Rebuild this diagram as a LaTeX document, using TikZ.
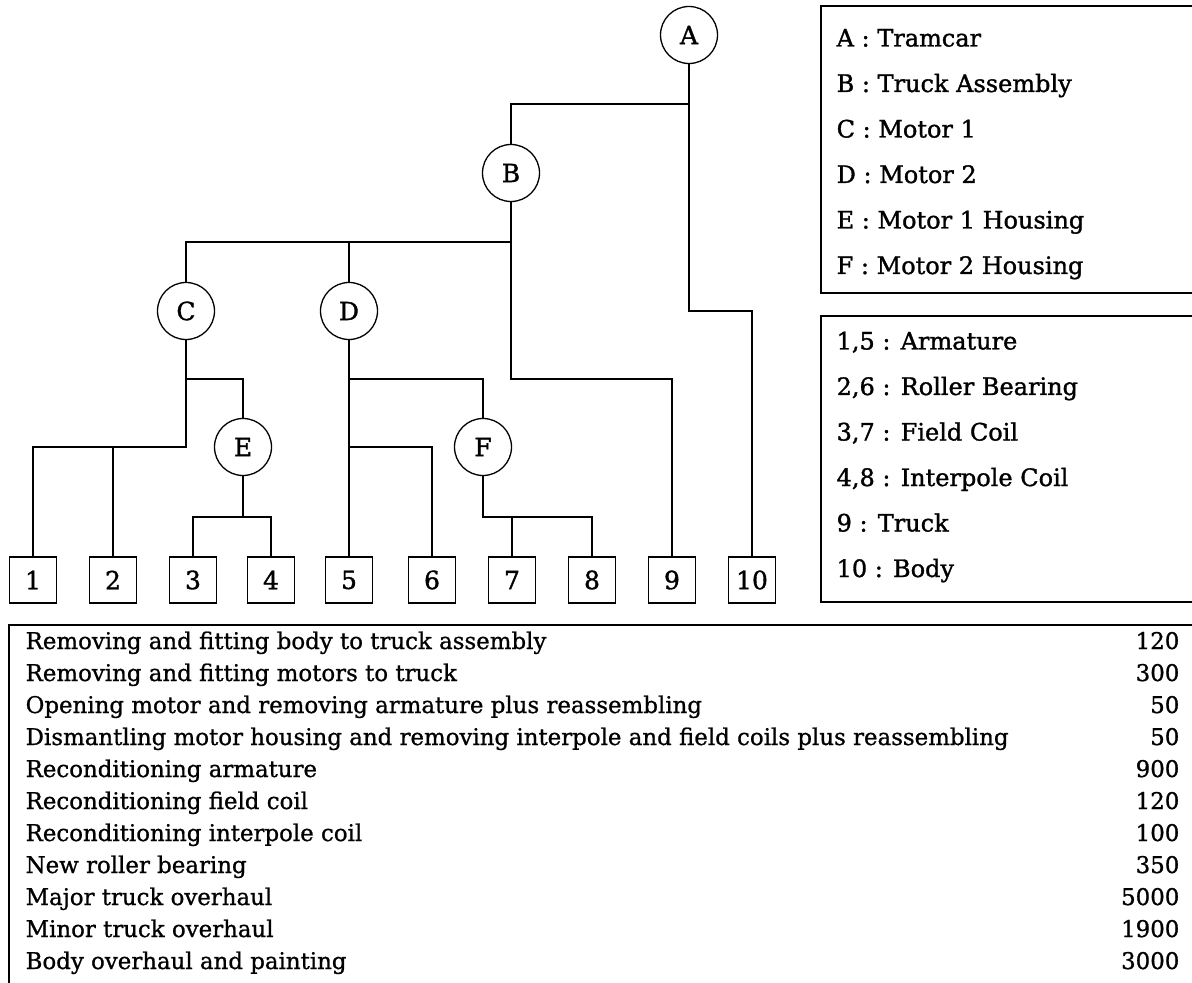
\documentclass[tikz,border=0pt]{standalone}
\usepackage{fontspec}
\setmainfont{DejaVu Serif}
\newfontfamily\labelfont[FakeBold=1.3]{DejaVu Serif}
\newfontfamily\tablefont[FakeBold=0.9,FakeStretch=0.995]{DejaVu Serif}
\begin{document}
\begin{tikzpicture}[x=0.5pt, y=-0.5pt, line width=0.65pt,
  part/.style={circle, draw, minimum size=28.5pt, inner sep=0pt,
    font=\labelfont\fontsize{12.5}{14}\selectfont},
  leaf/.style={rectangle, draw, minimum width=23.5pt, minimum height=23pt,
    inner sep=0pt, font=\labelfont\fontsize{12.5}{14}\selectfont},
  legend/.style={anchor=base west, inner sep=0pt,
    font=\labelfont\fontsize{12}{14}\selectfont},
  rowtext/.style={anchor=base west, inner sep=0pt,
    font=\tablefont\fontsize{11.5}{14}\selectfont},
  rowcost/.style={anchor=base east, inner sep=0pt,
    font=\tablefont\fontsize{11.5}{14}\selectfont}]
\useasboundingbox (0,0) rectangle (1192,983);

% assembly tree: sub-assemblies
\node[part] (A) at (689,35)  {A};
\node[part] (B) at (511,173) {B};
\node[part] (C) at (186,311) {C};
\node[part] (D) at (349,311) {D};
\node[part] (E) at (243,447) {E};
\node[part] (F) at (483,447) {F};

% assembly tree: parts
\node[leaf] (n1)  at (33,580)  {1};
\node[leaf] (n2)  at (113,580) {2};
\node[leaf] (n3)  at (193,580) {3};
\node[leaf] (n4)  at (271,580) {4};
\node[leaf] (n5)  at (349,580) {5};
\node[leaf] (n6)  at (432,580) {6};
\node[leaf] (n7)  at (512,580) {7};
\node[leaf] (n8)  at (592,580) {8};
\node[leaf] (n9)  at (672,580) {9};
\node[leaf] (n10) at (752,580) {10};

% connectors, one per parent-child pair
\draw (A.south) -- (A.south |- 0,104) -| (B.north);
\draw (A.south) -- (A.south |- 0,311) -| (n10.north);
\draw (B.south) -- (B.south |- 0,242) -| (C.north);
\draw (B.south) -- (B.south |- 0,242) -| (D.north);
\draw (B.south) -- (B.south |- 0,379) -| (n9.north);
\draw (C.south) -- (C.south |- 0,447) -| (n1.north);
\draw (C.south) -- (C.south |- 0,447) -| (n2.north);
\draw (C.south) -- (C.south |- 0,379) -| (E.north);
\draw (D.south) -- (n5.north);
\draw (D.south) -- (D.south |- 0,447) -| (n6.north);
\draw (D.south) -- (D.south |- 0,379) -| (F.north);
\draw (E.south) -- (E.south |- 0,517) -| (n3.north);
\draw (E.south) -- (E.south |- 0,517) -| (n4.north);
\draw (F.south) -- (F.south |- 0,517) -| (n7.north);
\draw (F.south) -- (F.south |- 0,517) -| (n8.north);

% legend of sub-assemblies
\draw (1192,6) -- (821,6) -- (821,293) -- (1192,293);
\node[legend] (lA) at (836,46.5)  {A : Tramcar};
\node[legend] (lB) at (836,92)    {B : Truck Assembly};
\node[legend] (lC) at (836,137.5) {C : Motor 1};
\node[legend] (lD) at (836,183)   {D : Motor 2};
\node[legend] (lE) at (836,228.5) {E : Motor 1 Housing};
\node[legend] (lF) at (836,274)   {F : Motor 2 Housing};

% legend of parts
\draw (1192,316) -- (821,316) -- (821,602) -- (1192,602);
\node[legend] (l15) at (836,349.5) {1,5 : Armature};
\node[legend] (l26) at (836,395)   {2,6 : Roller Bearing};
\node[legend] (l37) at (836,440.5) {3,7 : Field Coil};
\node[legend] (l48) at (836,486)   {4,8 : Interpole Coil};
\node[legend] (l9)  at (836,531.5) {9 : Truck};
\node[legend] (l10) at (836,577)   {10 : Body};

% cost table
\draw (1192,625) -- (9,625) -- (9,983);
\foreach \txt/\cost [count=\i from 0] in {
  Removing and fitting body to truck assembly/120,
  Removing and fitting motors to truck/300,
  Opening motor and removing armature plus reassembling/50,
  Dismantling motor housing and removing interpole and field coils plus reassembling/50,
  Reconditioning armature/900,
  Reconditioning field coil/120,
  Reconditioning interpole coil/100,
  New roller bearing/350,
  Major truck overhaul/5000,
  Minor truck overhaul/1900,
  Body overhaul and painting/3000}{
  \node[rowtext] (t\i) at (25,649+32*\i) {\txt};
  \node[rowcost] (c\i) at (1180,649+32*\i) {\cost};
}
\end{tikzpicture}
\end{document}
